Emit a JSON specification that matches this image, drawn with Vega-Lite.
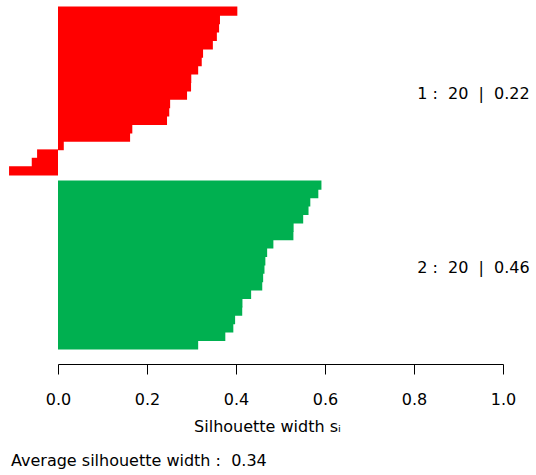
{
  "$schema": "https://vega.github.io/schema/vega-lite/v6.json",
  "padding": {"left": 9, "top": 6, "right": 0, "bottom": 0},
  "background": "white",
  "data": {"values": [
    {"cluster": "1", "id": "c1_01", "sil": 0.403, "label": "1 :\u00a0 20\u00a0 |\u00a0 0.22"},
    {"cluster": "1", "id": "c1_02", "sil": 0.364, "label": "1 :\u00a0 20\u00a0 |\u00a0 0.22"},
    {"cluster": "1", "id": "c1_03", "sil": 0.362, "label": "1 :\u00a0 20\u00a0 |\u00a0 0.22"},
    {"cluster": "1", "id": "c1_04", "sil": 0.357, "label": "1 :\u00a0 20\u00a0 |\u00a0 0.22"},
    {"cluster": "1", "id": "c1_05", "sil": 0.348, "label": "1 :\u00a0 20\u00a0 |\u00a0 0.22"},
    {"cluster": "1", "id": "c1_06", "sil": 0.326, "label": "1 :\u00a0 20\u00a0 |\u00a0 0.22"},
    {"cluster": "1", "id": "c1_07", "sil": 0.323, "label": "1 :\u00a0 20\u00a0 |\u00a0 0.22"},
    {"cluster": "1", "id": "c1_08", "sil": 0.315, "label": "1 :\u00a0 20\u00a0 |\u00a0 0.22"},
    {"cluster": "1", "id": "c1_09", "sil": 0.2995, "label": "1 :\u00a0 20\u00a0 |\u00a0 0.22"},
    {"cluster": "1", "id": "c1_10", "sil": 0.299, "label": "1 :\u00a0 20\u00a0 |\u00a0 0.22"},
    {"cluster": "1", "id": "c1_11", "sil": 0.290, "label": "1 :\u00a0 20\u00a0 |\u00a0 0.22"},
    {"cluster": "1", "id": "c1_12", "sil": 0.252, "label": "1 :\u00a0 20\u00a0 |\u00a0 0.22"},
    {"cluster": "1", "id": "c1_13", "sil": 0.250, "label": "1 :\u00a0 20\u00a0 |\u00a0 0.22"},
    {"cluster": "1", "id": "c1_14", "sil": 0.245, "label": "1 :\u00a0 20\u00a0 |\u00a0 0.22"},
    {"cluster": "1", "id": "c1_15", "sil": 0.167, "label": "1 :\u00a0 20\u00a0 |\u00a0 0.22"},
    {"cluster": "1", "id": "c1_16", "sil": 0.162, "label": "1 :\u00a0 20\u00a0 |\u00a0 0.22"},
    {"cluster": "1", "id": "c1_17", "sil": 0.013, "label": "1 :\u00a0 20\u00a0 |\u00a0 0.22"},
    {"cluster": "1", "id": "c1_18", "sil": -0.047, "label": "1 :\u00a0 20\u00a0 |\u00a0 0.22"},
    {"cluster": "1", "id": "c1_19", "sil": -0.059, "label": "1 :\u00a0 20\u00a0 |\u00a0 0.22"},
    {"cluster": "1", "id": "c1_20", "sil": -0.110, "label": "1 :\u00a0 20\u00a0 |\u00a0 0.22"},
    {"cluster": "2", "id": "c2_01", "sil": 0.592, "label": "2 :\u00a0 20\u00a0 |\u00a0 0.46"},
    {"cluster": "2", "id": "c2_02", "sil": 0.585, "label": "2 :\u00a0 20\u00a0 |\u00a0 0.46"},
    {"cluster": "2", "id": "c2_03", "sil": 0.567, "label": "2 :\u00a0 20\u00a0 |\u00a0 0.46"},
    {"cluster": "2", "id": "c2_04", "sil": 0.563, "label": "2 :\u00a0 20\u00a0 |\u00a0 0.46"},
    {"cluster": "2", "id": "c2_05", "sil": 0.551, "label": "2 :\u00a0 20\u00a0 |\u00a0 0.46"},
    {"cluster": "2", "id": "c2_06", "sil": 0.5295, "label": "2 :\u00a0 20\u00a0 |\u00a0 0.46"},
    {"cluster": "2", "id": "c2_07", "sil": 0.529, "label": "2 :\u00a0 20\u00a0 |\u00a0 0.46"},
    {"cluster": "2", "id": "c2_08", "sil": 0.484, "label": "2 :\u00a0 20\u00a0 |\u00a0 0.46"},
    {"cluster": "2", "id": "c2_09", "sil": 0.470, "label": "2 :\u00a0 20\u00a0 |\u00a0 0.46"},
    {"cluster": "2", "id": "c2_10", "sil": 0.466, "label": "2 :\u00a0 20\u00a0 |\u00a0 0.46"},
    {"cluster": "2", "id": "c2_11", "sil": 0.464, "label": "2 :\u00a0 20\u00a0 |\u00a0 0.46"},
    {"cluster": "2", "id": "c2_12", "sil": 0.461, "label": "2 :\u00a0 20\u00a0 |\u00a0 0.46"},
    {"cluster": "2", "id": "c2_13", "sil": 0.459, "label": "2 :\u00a0 20\u00a0 |\u00a0 0.46"},
    {"cluster": "2", "id": "c2_14", "sil": 0.434, "label": "2 :\u00a0 20\u00a0 |\u00a0 0.46"},
    {"cluster": "2", "id": "c2_15", "sil": 0.4145, "label": "2 :\u00a0 20\u00a0 |\u00a0 0.46"},
    {"cluster": "2", "id": "c2_16", "sil": 0.414, "label": "2 :\u00a0 20\u00a0 |\u00a0 0.46"},
    {"cluster": "2", "id": "c2_17", "sil": 0.398, "label": "2 :\u00a0 20\u00a0 |\u00a0 0.46"},
    {"cluster": "2", "id": "c2_18", "sil": 0.394, "label": "2 :\u00a0 20\u00a0 |\u00a0 0.46"},
    {"cluster": "2", "id": "c2_19", "sil": 0.376, "label": "2 :\u00a0 20\u00a0 |\u00a0 0.46"},
    {"cluster": "2", "id": "c2_20", "sil": 0.315, "label": "2 :\u00a0 20\u00a0 |\u00a0 0.46"}
  ]},
  "facet": {"row": {"field": "cluster", "type": "nominal", "title": null, "header": {"labels": false, "title": null}}},
  "spacing": {"row": 4},
  "resolve": {"scale": {"y": "independent"}},
  "title": {
    "text": "Average silhouette width :\u00a0 0.34",
    "orient": "bottom", "anchor": "start", "frame": "group",
    "offset": 19, "dx": -47,
    "font": "DejaVu Sans", "fontSize": 16, "fontWeight": "normal", "color": "black"
  },
  "spec": {
    "width": 445,
    "height": 168,
    "layer": [
      {
        "mark": {"type": "bar", "height": {"band": 1.1}},
        "encoding": {
          "y": {"field": "id", "type": "nominal", "sort": "-x", "axis": null,
                "scale": {"paddingInner": 0, "paddingOuter": 0}},
          "x": {"field": "sil", "type": "quantitative",
                "scale": {"domain": [0, 1], "nice": false, "zero": true},
                "axis": {
                  "title": "Silhouette width s\u1d62",
                  "values": [0, 0.2, 0.4, 0.6, 0.8, 1],
                  "format": ".1f", "grid": false, "labelFlush": false, "labelOverlap": false,
                  "domainColor": "black", "tickColor": "black", "tickSize": 10, "offset": 14,
                  "labelFont": "DejaVu Sans", "labelFontSize": 16, "labelColor": "black", "labelPadding": 17,
                  "titleFont": "DejaVu Sans", "titleFontSize": 16, "titleFontWeight": "normal", "titleColor": "black",
                  "titleBaseline": "alphabetic", "titleY": 67, "titleX": 209
                }},
          "color": {"field": "cluster", "type": "nominal",
                    "scale": {"range": ["#FF0000", "#00B050"]}, "legend": null}
        }
      },
      {
        "transform": [{"aggregate": [{"op": "count", "as": "n"}], "groupby": ["cluster", "label"]}],
        "mark": {"type": "text", "align": "right", "baseline": "middle", "dy": 3,
                 "font": "DejaVu Sans", "fontSize": 16, "color": "black"},
        "encoding": {
          "x": {"datum": 1.06},
          "text": {"field": "label", "type": "nominal"}
        }
      }
    ]
  },
  "config": {"view": {"stroke": null}, "scale": {"bandPaddingInner": 0, "bandPaddingOuter": 0}}
}
